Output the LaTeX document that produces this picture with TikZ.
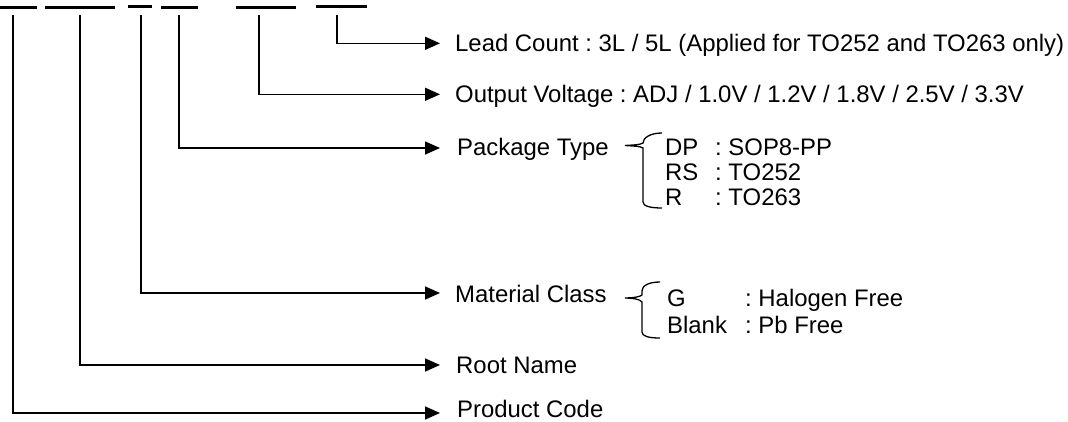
\documentclass[tikz,border=0pt]{standalone}
\usepackage{fontspec}
\setmainfont{Liberation Sans}
\usetikzlibrary{arrows.meta}
\frenchspacing
\begin{document}
\begin{tikzpicture}[x=1pt,y=-1pt,
  wire/.style={line width=1.6pt,black},
  arr/.style={wire,-{Triangle[length=15pt,width=13pt]}},
  barline/.style={line width=3pt,black},
  lbl/.style={anchor=base west,inner sep=0pt,font=\fontsize{23.9}{26}\selectfont},
  brace/.style={line width=1.3pt,black}]
\useasboundingbox (0,0) rectangle (1068,421);
% bars
\draw[barline] (0,7.5) -- (37,7.5);
\draw[barline] (45,7.5) -- (115,7.5);
\draw[barline] (128,6.5) -- (152,6.5);
\draw[barline] (161,7.5) -- (198,7.5);
\draw[barline] (236,7.5) -- (296,7.5);
\draw[barline] (316,6.5) -- (367,6.5);
% vertical starts
\coordinate (v1) at (13,15);
\coordinate (v2) at (80,15);
\coordinate (v3) at (141,15);
\coordinate (v4) at (179,15);
\coordinate (v5) at (259,15);
\coordinate (v6) at (337,15);
% arrow tips
\coordinate (a6) at (440,43.3);
\coordinate (a5) at (440,94.3);
\coordinate (a4) at (440,148);
\coordinate (a3) at (440,293);
\coordinate (a2) at (440,365);
\coordinate (a1) at (440,413);
% labels
\node[lbl] (t6) at (455,51.8) {Lead Count : 3L / 5L (Applied for TO252 and TO263 only)};
\node[lbl] (t5) at (455,102.8) {Output Voltage : ADJ / 1.0V / 1.2V / 1.8V / 2.5V / 3.3V};
\node[lbl] (t4) at (457,155) {Package Type};
\node[lbl] (t3) at (455,302) {Material Class};
\node[lbl] (t2) at (456,373) {Root Name};
\node[lbl] (t1) at (457,417) {Product Code};
% connectors
\draw[arr] (v6) |- (a6);
\draw[arr] (v5) |- (a5);
\draw[arr] (v4) |- (a4);
\draw[arr] (v3) |- (a3);
\draw[arr] (v2) |- (a2);
\draw[arr] (v1) |- (a1);
% package brace
\draw[brace] (662,133) .. controls (650,133) and (643,138) .. (643,143)
  .. controls (640,145) and (632,145) .. (625,145.5)
  .. controls (632,146) and (640,146) .. (643,148)
  -- (643,202) .. controls (643,206) and (650,208) .. (662,208);
\node[lbl] (p1) at (665,155) {DP};
\node[lbl] (p2) at (665,180) {RS};
\node[lbl] (p3) at (665,205) {R};
\node[lbl] (q1) at (715,155) {: SOP8-PP};
\node[lbl] (q2) at (715,180) {: TO252};
\node[lbl] (q3) at (715,205) {: TO263};
% material brace
\draw[brace] (660,282) .. controls (648,282) and (642,286) .. (642,291)
  -- (642,295) .. controls (640,297) and (632,298) .. (625,298)
  .. controls (632,298) and (640,299) .. (642,302)
  -- (642,332) .. controls (642,336) and (648,338) .. (660,338);
\node[lbl] (m1) at (667,306) {G};
\node[lbl] (m2) at (667,333) {Blank};
\node[lbl] (n1) at (745,306) {: Halogen Free};
\node[lbl] (n2) at (745,333) {: Pb Free};
\end{tikzpicture}
\end{document}
